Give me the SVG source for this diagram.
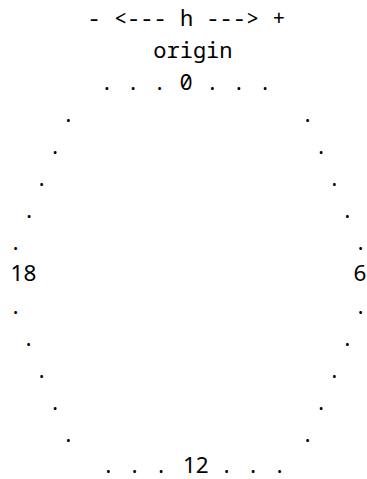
<svg xmlns="http://www.w3.org/2000/svg" width="367" height="479" viewBox="0 0 367 479">
<style>
.m{font-family:"Noto Sans Mono","DejaVu Sans Mono","Liberation Mono",monospace;font-size:22px;fill:#000;white-space:pre}
.d{font-family:"Noto Sans Mono","DejaVu Sans Mono","Liberation Mono",monospace;font-size:22px;fill:#000;text-anchor:middle}
.n{font-family:"Noto Sans","Open Sans",sans-serif;font-size:22.5px;fill:#000;text-anchor:middle}
</style>
<rect width="367" height="479" fill="#fff"/>
<g id="axis"><text class="m" x="186.5" y="26.1" text-anchor="middle" xml:space="preserve">- &lt;--- h ---&gt; +</text></g>
<g id="origin"><text class="m" x="153.3" y="58">origin</text></g>
<g id="top-row"><text class="m" x="186" y="90" text-anchor="middle" xml:space="preserve">. . . 0 . . .</text></g>
<g id="ring">
<text class="d" x="68.3" y="122">.</text>
<text class="d" x="55" y="153.9">.</text>
<text class="d" x="41.7" y="185.9">.</text>
<text class="d" x="29" y="217.8">.</text>
<text class="d" x="15.7" y="249.8">.</text>
<text class="d" x="307.7" y="122">.</text>
<text class="d" x="321" y="153.9">.</text>
<text class="d" x="334.3" y="185.9">.</text>
<text class="d" x="347.3" y="217.8">.</text>
<text class="d" x="360.7" y="249.8">.</text>
<text class="d" x="15.7" y="313.7">.</text>
<text class="d" x="28.7" y="345.6">.</text>
<text class="d" x="41.7" y="377.6">.</text>
<text class="d" x="55" y="409.5">.</text>
<text class="d" x="68.3" y="441.5">.</text>
<text class="d" x="360.7" y="313.7">.</text>
<text class="d" x="347.3" y="345.6">.</text>
<text class="d" x="334.3" y="377.6">.</text>
<text class="d" x="321" y="409.5">.</text>
<text class="d" x="307.7" y="441.5">.</text>
</g>
<g id="label-18"><text class="n" x="23.4" y="281">18</text></g>
<g id="label-6"><text class="n" x="360" y="281">6</text></g>
<g id="bottom-row">
<text class="m" x="101.7" y="473.4" xml:space="preserve">. . .</text>
<text class="n" x="195.8" y="473.4">12</text>
<text class="m" x="220.1" y="473.4" xml:space="preserve">. . .</text>
</g>
</svg>
